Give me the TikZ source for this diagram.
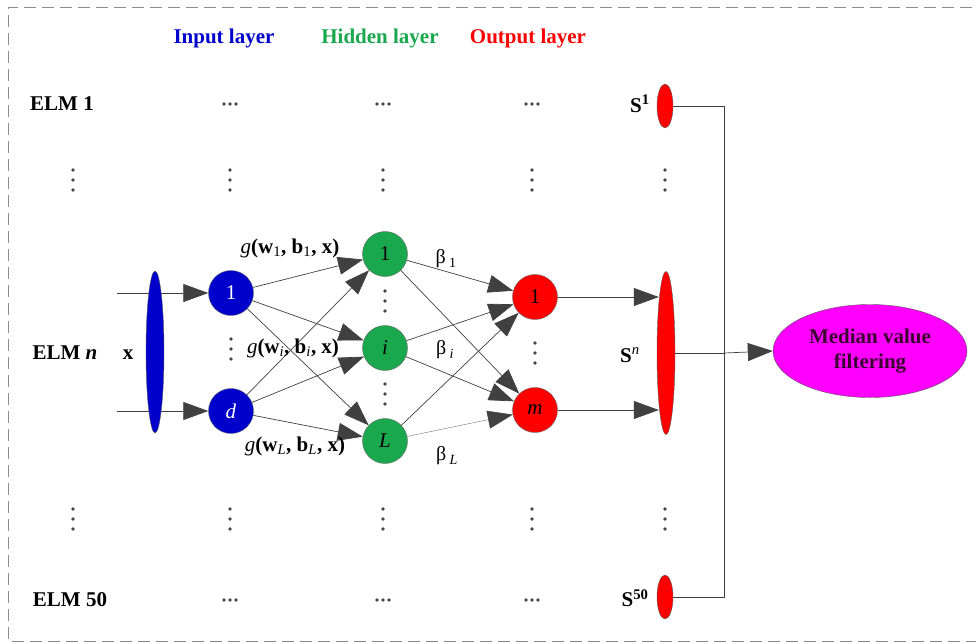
\documentclass[tikz,border=0pt]{standalone}
\usepackage{fontspec}
\setmainfont{Liberation Serif}
\usetikzlibrary{arrows.meta,shapes.geometric}
\definecolor{inblue}{RGB}{0,0,205}
\definecolor{hidgreen}{RGB}{26,168,78}
\definecolor{outred}{RGB}{255,0,0}
\definecolor{medmag}{RGB}{255,0,255}
\definecolor{medtext}{RGB}{60,0,50}
\definecolor{linec}{RGB}{64,64,64}
\definecolor{dotc}{RGB}{70,70,70}
\definecolor{framec}{RGB}{140,140,140}
\begin{document}
\begin{tikzpicture}[x=1pt,y=-1pt,
  every node/.style={font=\fontsize{21}{24}\selectfont, inner sep=0pt},
  neuron/.style={circle, draw=gray!80!black, line width=0.4pt, minimum size=45pt},
  inneuron/.style={neuron, fill=inblue, text=white},
  hidneuron/.style={neuron, fill=hidgreen},
  outneuron/.style={neuron, fill=outred},
  lens/.style={ellipse, draw=gray!70!black, line width=0.4pt, fill=#1, minimum width=18pt},
  conn/.style={draw=linec, line width=0.7pt},
  arr/.style={conn, -{Triangle[length=25pt,width=18pt,color=linec]}},
  lbl/.style={font=\fontsize{21}{24}\selectfont\bfseries},
  wlbl/.style={font=\fontsize{21}{24}\selectfont},
  blbl/.style={font=\fontsize{20}{24}\selectfont},
  hdots/.pic={\foreach \k in {-6,0,6} \fill[dotc] (\k,0) circle (1.9);},
  vdots/.pic={\foreach \k in {-10,0,10} \fill[dotc] (0,\k) circle (1.9);}
]
\useasboundingbox (0,0) rectangle (976,643);

% dashed frame
\draw[framec, line width=0.8pt, dash pattern=on 12pt off 6pt]
  (990,7) -- (8,7) -- (8,641) -- (990,641);

% layer titles
\node[lbl, text=inblue]    (tin)  at (224,38) {Input layer};
\node[lbl, text=hidgreen]  (thid) at (380,38) {Hidden layer};
\node[lbl, text=outred]    (tout) at (528,38) {Output layer};

% row labels
\node[lbl] (elm1)  at (62,104)  {ELM 1};
\node[lbl] (elmn)  at (65,353)  {ELM \textit{n}};
\node[lbl] (elm50) at (70,600)  {ELM 50};
\node[lbl] (xlab)  at (128,355) {x};

% neurons
\node[inneuron]  (I1) at (231,293) {1};
\node[inneuron]  (Id) at (231,411) {\textit{d}};
\node[hidneuron] (H1) at (385,254) {1};
\node[hidneuron] (Hi) at (385,348) {\textit{i}};
\node[hidneuron] (HL) at (385,441) {\textit{L}};
\node[outneuron] (O1) at (535,297) {1};
\node[outneuron] (Om) at (535,410) {\textit{m}};

% input lines (drawn beneath the input ellipse)
\coordinate (in1) at (117,293);
\coordinate (ind) at (117,411);
\draw[arr] (in1) -- (I1);
\draw[arr] (ind) -- (Id);
\node[lens=inblue, minimum height=162pt] (X) at (155,352) {};

% input -> hidden
\foreach \a in {I1,Id}
  \foreach \b in {H1,Hi,HL}
    \draw[arr] (\a) -- (\b);

% hidden -> output
\foreach \a/\b in {H1/O1,H1/Om,Hi/O1,Hi/Om,HL/O1}
  \draw[arr] (\a) -- (\b);
\draw[arr, line width=0.4pt, draw=linec!75] (HL) -- (Om);

% ensemble outputs
\node[lens=outred, minimum height=163pt] (Sn)  at (666,353) {};
\node[lens=outred, minimum height=44pt, minimum width=16pt] (S1)  at (665,106) {};
\node[lens=outred, minimum height=44pt, minimum width=16pt] (S50) at (665,597) {};
\draw[arr] (O1) -- ([xshift=2pt]Sn.west |- O1);
\draw[arr] (Om) -- ([xshift=2pt]Sn.west |- Om);

% median filter
\node[ellipse, draw=gray!70!black, line width=0.4pt, fill=medmag,
      minimum width=194pt, minimum height=93pt, align=center,
      text=medtext, font=\fontsize{21}{25}\selectfont\bfseries]
      (med) at (870,351) {Median value\\filtering};
\coordinate (J) at (724,353);
\draw[conn] (Sn.east) -- (J);
\draw[conn] (S1.east) -| (J);
\draw[conn] (S50.east) -| (J);
\draw[arr] (J) -- (med.west);

% weight labels
\node[wlbl] (g1) at (290,248) {\textit{g}\textbf{(w}\textsubscript{1}\textbf{, b}\textsubscript{1}\textbf{, x)}};
\node[wlbl] (gi) at (293,348) {\textit{g}\textbf{(w}\textsubscript{\textit{i}}\textbf{, b}\textsubscript{\textit{i}}\textbf{, x)}};
\node[wlbl] (gL) at (295,446) {\textit{g}\textbf{(w}\textsubscript{\textit{L}}\textbf{, b}\textsubscript{\textit{L}}\textbf{, x)}};
\node[blbl] (b1) at (446,259) {β\,\textsubscript{1}};
\node[blbl] (bi) at (445,350) {β\,\textsubscript{\textit{i}}};
\node[blbl] (bL) at (447,456) {β\,\textsubscript{\textit{L}}};

% output labels
\node[lbl] (s1lab)  at (640,104) {S\textsuperscript{1}};
\node[lbl] (snlab)  at (630,355) {S\textsuperscript{\mdseries\textit{n}}};
\node[lbl] (s50lab) at (635,598) {S\textsuperscript{50}};

% ellipsis dots
\foreach \x in {230,383,532} {
  \pic at (\x,104) {hdots};
  \pic at (\x,600) {hdots};
}
\foreach \x in {73,230,383,532,665} {
  \pic at (\x,180) {vdots};
  \pic at (\x,519) {vdots};
}
\pic at (231,349) {vdots};
\pic at (385,301) {vdots};
\pic at (385,394) {vdots};
\pic at (535,353) {vdots};
\end{tikzpicture}
\end{document}
